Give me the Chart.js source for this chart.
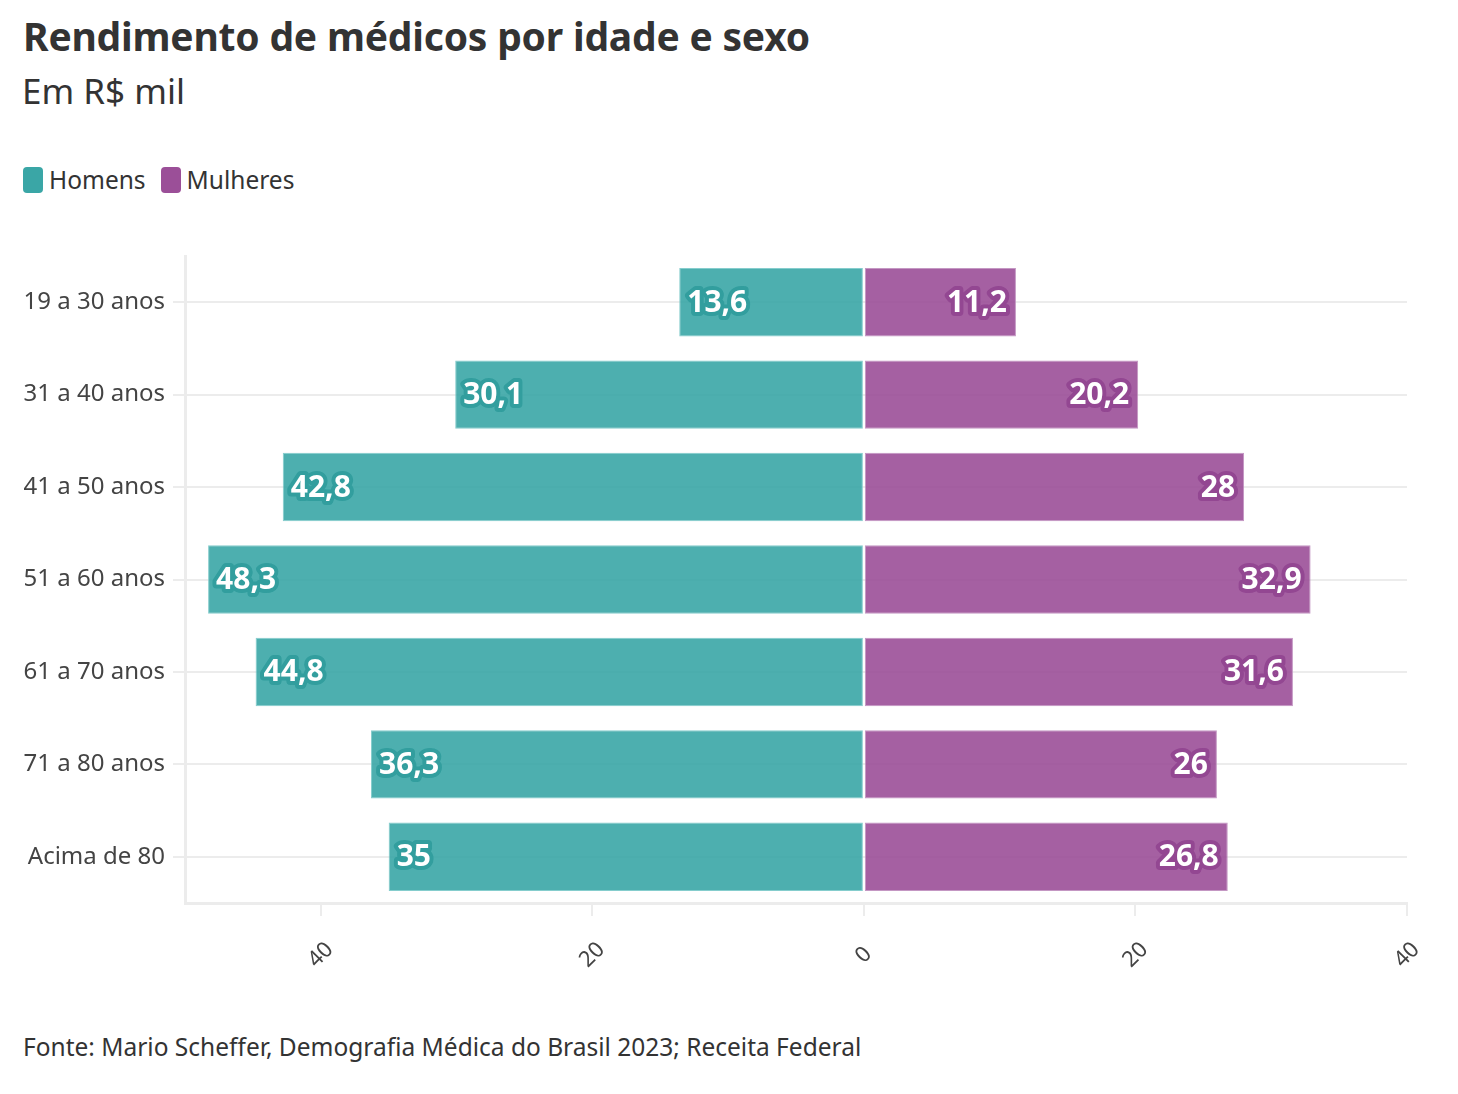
<!DOCTYPE html>
<html lang="pt-BR">
<head>
<meta charset="utf-8">
<script src="https://cdn.jsdelivr.net/npm/chart.js@4.4.1/dist/chart.umd.min.js"></script>
<style>
  html, body { margin: 0; padding: 0; background: #fff; }
  body { width: 1458px; height: 1094px; position: relative; overflow: hidden; font-family: 'Noto Sans', 'Open Sans', sans-serif; color: #333; }
  #title { position: absolute; left: 23px; top: 9px; font-size: 39px; font-weight: 700; color: #333; letter-spacing: -0.2px; }
  #subtitle { position: absolute; left: 22px; top: 67px; font-size: 35px; color: #333; }
  #legend { position: absolute; left: 23px; top: 163px; display: flex; align-items: center; font-size: 24.5px; color: #333; }
  #legend .sw { width: 20px; height: 26px; border-radius: 4px; margin-right: 6px; }
  #legend .item { display: flex; align-items: center; margin-right: 15px; }
  #source { position: absolute; left: 23px; top: 1030px; font-size: 24.5px; color: #333; }
  canvas { position: absolute; left: 0; top: 0; }
</style>
</head>
<body>
<div id="title">Rendimento de médicos por idade e sexo</div>
<div id="subtitle">Em R$ mil</div>
<div id="legend">
  <div class="item"><div class="sw" style="background:#3aa6a6"></div>Homens</div>
  <div class="item"><div class="sw" style="background:#9b4f98"></div>Mulheres</div>
</div>
<div id="source">Fonte: Mario Scheffer, Demografia Médica do Brasil 2023; Receita Federal</div>
<canvas id="chart" width="1458" height="1094"></canvas>
<script>
// Data
const ageGroups = ['19 a 30 anos', '31 a 40 anos', '41 a 50 anos', '51 a 60 anos', '61 a 70 anos', '71 a 80 anos', 'Acima de 80'];
const men = [13.6, 30.1, 42.8, 48.3, 44.8, 36.3, 35];
const women = [11.2, 20.2, 28, 32.9, 31.6, 26, 26.8];
const xTicks = [-40, -20, 0, 20, 40];

const FONT = "'Noto Sans', 'Open Sans', sans-serif";
const TEAL = '#329e9e';
const PURPLE = '#934792';

const fmt = v => String(v).replace('.', ',');

// value labels with a colored halo, drawn inside the bar ends
const valueLabels = {
    id: 'valueLabels',
    afterDatasetsDraw(chart) {
        const ctx = chart.ctx;
        ctx.save();
        ctx.font = `700 30px ${FONT}`;
        ctx.textBaseline = 'middle';
        ctx.lineJoin = 'round';
        ctx.lineWidth = 8;
        chart.data.datasets.forEach((ds, di) => {
            const meta = chart.getDatasetMeta(di);
            meta.data.forEach((bar, i) => {
                const raw = di === 0 ? men[i] : women[i];
                const txt = fmt(raw);
                let x;
                if (di === 0) {
                    ctx.textAlign = 'left';
                    x = bar.x + 8;
                } else {
                    ctx.textAlign = 'right';
                    x = bar.x - 9;
                }
                ctx.strokeStyle = di === 0 ? TEAL : PURPLE;
                ctx.strokeText(txt, x, bar.y + 1);
                ctx.fillStyle = '#ffffff';
                ctx.fillText(txt, x, bar.y + 1);
            });
        });
        ctx.restore();
    }
};

// rotated x tick labels centered under each tick
const xLabels = {
    id: 'xLabels',
    afterDraw(chart) {
        const ctx = chart.ctx;
        const sx = chart.scales.x;
        ctx.save();
        ctx.font = `22px ${FONT}`;
        ctx.fillStyle = '#444';
        ctx.textAlign = 'center';
        ctx.textBaseline = 'middle';
        xTicks.forEach(t => {
            const px = sx.getPixelForValue(t);
            ctx.save();
            ctx.translate(px, 955);
            ctx.rotate(-Math.PI / 4);
            ctx.fillText(String(Math.abs(t)), 0, 0);
            ctx.restore();
        });
        ctx.restore();
    }
};

new Chart(document.getElementById('chart'), {
    type: 'bar',
    data: {
        labels: ageGroups,
        datasets: [
            {
                label: 'Homens',
                data: men.map(v => -v),
                backgroundColor: 'rgba(58,166,166,0.9)',
                borderColor: 'rgba(120,200,200,0.9)',
                borderWidth: 1,
                borderSkipped: false
            },
            {
                label: 'Mulheres',
                data: women,
                backgroundColor: 'rgba(155,79,152,0.9)',
                borderColor: 'rgba(190,140,188,0.9)',
                borderWidth: 1,
                borderSkipped: false
            }
        ]
    },
    options: {
        indexAxis: 'y',
        responsive: false,
        animation: false,
        barPercentage: 0.74,
        categoryPercentage: 1,
        layout: {
            padding: { top: 256, right: 51, left: 0, bottom: 0 }
        },
        plugins: {
            legend: { display: false },
            tooltip: { enabled: false }
        },
        scales: {
            x: {
                stacked: true,
                min: -50,
                max: 40,
                afterBuildTicks: s => { s.ticks = xTicks.map(v => ({ value: v })); },
                afterFit: s => { s.height = 191; },
                grid: {
                    drawOnChartArea: false,
                    drawTicks: true,
                    tickLength: 13,
                    color: '#ececec',
                    lineWidth: 2
                },
                border: { color: '#ececec', width: 3 },
                ticks: { color: 'rgba(0,0,0,0)', font: { size: 1 } }
            },
            y: {
                stacked: true,
                afterFit: s => { s.width = 185; },
                grid: {
                    offset: false,
                    color: '#ececec',
                    lineWidth: 2,
                    tickLength: 12
                },
                border: { color: '#ececec', width: 3 },
                ticks: {
                    color: '#444',
                    padding: 8,
                    font: { family: FONT, size: 24 }
                }
            }
        }
    },
    plugins: [valueLabels, xLabels]
});
</script>
</body>
</html>
